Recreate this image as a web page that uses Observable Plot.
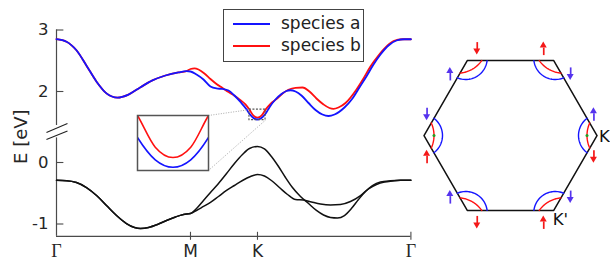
<!DOCTYPE html>
<html><head><meta charset="utf-8">
<script src="https://cdn.jsdelivr.net/npm/d3@7"></script>
<script src="https://cdn.jsdelivr.net/npm/@observablehq/plot@0.6"></script>
<style>
html,body{margin:0;padding:0;background:#fff;}
#wrap{position:relative;width:610px;height:261px;overflow:hidden;font-family:"DejaVu Sans",sans-serif;}
#wrap svg{position:absolute;}
#legend{position:absolute;left:223px;top:9px;width:141px;height:53px;border:1px solid #444;background:#fff;box-sizing:border-box;}
#legend .ln{position:absolute;left:9px;width:37px;height:1.6px;}
#legend .tx{position:absolute;left:57px;font-size:17px;line-height:20px;color:#222;white-space:nowrap;}
</style></head><body><div id="wrap"><div id="legend">
<div class="ln" style="top:13px;background:#1414ff"></div><div class="tx" style="top:3px">species a</div>
<div class="ln" style="top:35px;background:#ff1010"></div><div class="tx" style="top:25px">species b</div>
</div></div>
<script>
// ---------- data ----------
const kTicks = [0, 1, 1.5, 2.645];
const kTickLabels = ["Γ", "M", "K", "Γ"];
const yTicks = [-1, 0, 2, 3];
const yTickLabels = ["-1", "0", "2", "3"];

// upper band, Γ → M (both species identical)
const commonK = [0, 0.075, 0.149, 0.224, 0.299, 0.373, 0.455, 0.537, 0.627, 0.716, 0.813, 0.910, 0.970];
const commonE = [2.85, 2.81, 2.67, 2.42, 2.16, 1.97, 1.90, 1.95, 2.07, 2.18, 2.26, 2.31, 2.33];
// species a (blue), M → K → Γ
const speciesAK = [1.000, 1.045, 1.097, 1.149, 1.194, 1.239, 1.284, 1.328, 1.373, 1.418, 1.44, 1.47, 1.50, 1.53, 1.56, 1.59, 1.634, 1.679, 1.716, 1.746, 1.784, 1.828, 1.881, 1.933, 1.985, 2.030, 2.075, 2.149, 2.209, 2.261, 2.313, 2.366, 2.418, 2.478, 2.537, 2.597, 2.645];
const speciesAE = [2.325, 2.276, 2.195, 2.081, 2.049, 2.041, 2.016, 1.935, 1.83, 1.71, 1.637, 1.568, 1.545, 1.568, 1.637, 1.745, 1.870, 1.959, 2.008, 2.020, 2.000, 1.935, 1.813, 1.699, 1.626, 1.602, 1.626, 1.740, 1.886, 2.065, 2.244, 2.439, 2.602, 2.748, 2.829, 2.85, 2.85];
// species b (red), M → K → Γ
const speciesBK = [1.000, 1.030, 1.060, 1.104, 1.149, 1.194, 1.239, 1.284, 1.328, 1.373, 1.41, 1.44, 1.47, 1.50, 1.53, 1.56, 1.597, 1.642, 1.687, 1.731, 1.784, 1.836, 1.888, 1.940, 1.993, 2.037, 2.067, 2.104, 2.157, 2.239, 2.291, 2.343, 2.403, 2.463, 2.515, 2.582, 2.645];
const speciesBE = [2.366, 2.377, 2.358, 2.293, 2.203, 2.122, 2.057, 1.99, 1.93, 1.86, 1.79, 1.705, 1.607, 1.575, 1.607, 1.705, 1.80, 1.875, 1.967, 2.028, 2.060, 2.065, 2.0, 1.886, 1.789, 1.732, 1.719, 1.740, 1.813, 2.033, 2.211, 2.407, 2.585, 2.732, 2.821, 2.85, 2.85];

// valence bands (black), Γ → M common
const valCommonK = [0, 0.075, 0.149, 0.224, 0.299, 0.373, 0.448, 0.522, 0.582, 0.627, 0.687, 0.754, 0.821, 0.888, 0.948, 1.0];
const valCommonE = [-0.29, -0.295, -0.325, -0.407, -0.537, -0.699, -0.862, -0.992, -1.057, -1.073, -1.057, -1.008, -0.943, -0.886, -0.846, -0.829];
const val1K = [1.045, 1.097, 1.149, 1.209, 1.269, 1.328, 1.388, 1.440, 1.5, 1.552, 1.604, 1.657, 1.709, 1.761, 1.821, 1.881, 1.940, 1.993, 2.045, 2.097, 2.149, 2.201, 2.254, 2.306, 2.358, 2.418, 2.493, 2.567, 2.645];
const val1E = [-0.748, -0.618, -0.488, -0.341, -0.179, -0.016, 0.130, 0.228, 0.260, 0.220, 0.098, -0.065, -0.244, -0.407, -0.553, -0.667, -0.780, -0.854, -0.894, -0.902, -0.862, -0.748, -0.602, -0.472, -0.374, -0.317, -0.298, -0.29, -0.29];
const val2K = [1.045, 1.097, 1.149, 1.209, 1.269, 1.328, 1.388, 1.448, 1.5, 1.552, 1.604, 1.664, 1.724, 1.784, 1.843, 1.903, 1.970, 2.045, 2.119, 2.194, 2.269, 2.328, 2.388, 2.448, 2.507, 2.567, 2.645];
const val2E = [-0.780, -0.715, -0.650, -0.553, -0.455, -0.374, -0.293, -0.228, -0.195, -0.220, -0.293, -0.407, -0.520, -0.602, -0.610, -0.642, -0.675, -0.691, -0.683, -0.634, -0.537, -0.431, -0.358, -0.317, -0.301, -0.29, -0.29];

// zoom window around K (k range, E range) and inset box position (data coords)
const zoomK = [1.44, 1.56];
const zoomE = [1.535, 1.705];
const insetK = [0.604, 1.134];
const insetE = [1.61, -0.13];
// broken energy axis: the gap between 0.40 and 1.45 eV is cut out
const axisLower = [-1.2, 0.40];
const axisUpper = [1.447, 3.0];
const breakShift = 0.8455;
const axisBreak = [
  {x1: -0.075, y1: 0.488, x2: 0.082, y2: 1.48},
  {x1: -0.075, y1: 0.374, x2: 0.082, y2: 1.358}
];

// Brillouin zone: spin arrows per corner (corner i at angle 60°·i)
const blueEdgeNeighbor = [1, -1, 1, -1, -1, 1];
const blueSpin = [1, -1, 1, -1, 1, -1];
const dotCorners = [0, 3];

// ---------- build ----------
const tE = E => (E > 1 ? E - breakShift : E);
const table = (K, E) => K.map((k, i) => ({k, E: E[i]}));
const upperCommon = table(commonK, commonE);
const bandA = upperCommon.concat(table(speciesAK, speciesAE));
const bandB = upperCommon.concat(table(speciesBK, speciesBE));
const valCommon = table(valCommonK, valCommonE);
const val1 = valCommon.concat(table(val1K, val1E));
const val2 = valCommon.concat(table(val2K, val2E));

const BLUE = "#1414ff", RED = "#ff1010", AX = "#4a4a4a", TXT = "#262626";
const wrap = document.getElementById("wrap");
const kEnd = kTicks[3];
const eMin = axisLower[0];
const yE = d => tE(d.E);
const labelled = kTicks.map((k, i) => ({k, t: kTickLabels[i]}));

const main = Plot.plot({
  width: 422, height: 261,
  marginLeft: 56, marginRight: 12, marginTop: 29, marginBottom: 26,
  style: {background: "transparent", overflow: "visible", fontFamily: "DejaVu Sans"},
  x: {domain: [0, kEnd], range: [56, 410.4], axis: null},
  y: {domain: [tE(eMin), tE(axisUpper[1])], range: [235.8, 29.5], axis: null},
  marks: [
    // axes
    Plot.ruleX([0], {x: d => d, y1: () => tE(axisUpper[1]), y2: () => tE(axisUpper[0]), stroke: AX, strokeWidth: 1.2}),
    Plot.ruleX([0], {x: d => d, y1: () => tE(axisLower[1]), y2: () => tE(axisLower[0]), stroke: AX, strokeWidth: 1.2}),
    Plot.link(axisBreak, {x1: "x1", y1: d => tE(d.y1), x2: "x2", y2: d => tE(d.y2), stroke: "#222", strokeWidth: 1.1}),
    Plot.ruleY([eMin], {y: d => tE(d), x1: () => 0, x2: () => kEnd, stroke: AX, strokeWidth: 1.2}),
    Plot.ruleY(yTicks, {y: d => tE(d), x1: () => 0, x2: () => 0.055, stroke: AX, strokeWidth: 1.1}),
    Plot.ruleX(kTicks.slice(1), {x: d => d, y1: () => eMin - 0.065, y2: () => eMin + 0.065, stroke: AX, strokeWidth: 1.1}),
    Plot.text(yTicks, {x: () => 0, y: d => tE(d), text: (d, i) => yTickLabels[i], dx: -8, textAnchor: "end", fontSize: 16.5, fill: TXT}),
    Plot.text(labelled.filter(d => d.t === "Γ"),
      {x: "k", y: () => eMin, text: "t", dy: 14.5, fontSize: 18, fontFamily: "Liberation Serif", fill: TXT}),
    Plot.text(labelled.filter(d => d.t !== "Γ"),
      {x: "k", y: () => eMin, text: "t", dy: 15.5, fontSize: 17, fill: TXT}),
    Plot.text(["E [eV]"], {x: () => 0, y: () => 0.42, text: d => d, dx: -35, rotate: -90, fontSize: 18, fill: TXT}),
    // bands
    Plot.line(val1, {x: "k", y: yE, stroke: "#111", strokeWidth: 1.5, curve: "monotone-x"}),
    Plot.line(val2, {x: "k", y: yE, stroke: "#111", strokeWidth: 1.5, curve: "monotone-x"}),
    Plot.line(bandB, {x: "k", y: yE, stroke: RED, strokeWidth: 1.8, curve: "monotone-x"}),
    Plot.line(bandA, {x: "k", y: yE, stroke: BLUE, strokeWidth: 1.8, curve: "monotone-x"}),
    // zoom window + connectors
    Plot.rect([0], {x1: () => zoomK[0], x2: () => zoomK[1], y1: () => tE(zoomE[0]), y2: () => tE(zoomE[1]), fill: "none", stroke: "#555", strokeWidth: 1.1, strokeDasharray: "2,1.5"}),
    Plot.link([
      {x1: insetK[1], y1: insetE[0], x2: zoomK[0], y2: zoomE[1]},
      {x1: insetK[1], y1: insetE[1], x2: zoomK[1], y2: zoomE[0]}
    ], {x1: "x1", y1: d => tE(d.y1), x2: "x2", y2: d => tE(d.y2), stroke: "#aaa", strokeWidth: 1, strokeDasharray: "1,1.5"})
  ]
});
main.style.left = "0px"; main.style.top = "0px";
wrap.appendChild(main);

// inset
const sx = main.scale("x"), sy = main.scale("y");
const ix0 = sx.apply(insetK[0]), ix1 = sx.apply(insetK[1]);
const iy0 = sy.apply(tE(insetE[0])), iy1 = sy.apply(tE(insetE[1]));
const inset = Plot.plot({
  width: Math.round(ix1 - ix0), height: Math.round(iy1 - iy0), margin: 0,
  style: {background: "#fff", overflow: "visible"},
  x: {domain: zoomK, axis: null},
  y: {domain: zoomE, axis: null},
  marks: [
    Plot.line(bandB, {x: "k", y: "E", stroke: RED, strokeWidth: 1.6, curve: "monotone-x", clip: true}),
    Plot.line(bandA, {x: "k", y: "E", stroke: BLUE, strokeWidth: 1.6, curve: "monotone-x", clip: true}),
    Plot.frame({stroke: "#555", strokeWidth: 1.5})
  ]
});
inset.style.left = ix0 + "px"; inset.style.top = iy0 + "px";
wrap.appendChild(inset);

// Brillouin zone
const R = 86.5;
const V = d3.range(6).map(i => ({i, a: i * Math.PI / 3, x: R * Math.cos(i * Math.PI / 3), y: R * Math.sin(i * Math.PI / 3)}));
const hexPath = V.concat([V[0]]);
function arcPts(i, d, r, id) {
  const v = V[i], th = v.a;
  const x = (-d + Math.sqrt(4 * r * r - 3 * d * d)) / 2;
  const alpha = Math.atan2(0.866025 * x, -x / 2 - d);
  const cx = v.x + d * Math.cos(th), cy = v.y + d * Math.sin(th);
  return d3.range(41).map(j => {
    const p = th + alpha + (2 * Math.PI - 2 * alpha) * j / 40;
    return {id, x: cx + r * Math.cos(p), y: cy + r * Math.sin(p)};
  });
}
const blueArcs = V.flatMap(v => arcPts(v.i, 3, 21.5, v.i));
const redArcs = V.flatMap(v => arcPts(v.i, 20, 30, v.i));
const arrows = [];
V.forEach(v => {
  ["b", "r"].forEach(c => {
    const n = c === "b" ? blueEdgeNeighbor[v.i] : -blueEdgeNeighbor[v.i];
    const w = V[(v.i + n + 6) % 6];
    const ex = (w.x - v.x) / R, ey = (w.y - v.y) / R;
    const mx = (v.x + w.x) / 2, my = (v.y + w.y) / 2, ml = Math.hypot(mx, my);
    const horiz = Math.abs(ey) < 0.1;
    const a = horiz ? 10 : 20, b = horiz ? 12 : 8;
    const s = c === "b" ? blueSpin[v.i] : -blueSpin[v.i];
    arrows.push({id: v.i + c, c, s, cx: v.x + a * ex + b * mx / ml, cy: v.y + a * ey + b * my / ml});
  });
});
const heads = arrows.flatMap(d => [
  {id: d.id, c: d.c, x: d.cx - 3.5, yb: d.cy + d.s * 0.5, yt: d.cy + d.s * 0.5},
  {id: d.id, c: d.c, x: d.cx, yb: d.cy + d.s * 0.5, yt: d.cy + d.s * 6.5},
  {id: d.id, c: d.c, x: d.cx + 3.5, yb: d.cy + d.s * 0.5, yt: d.cy + d.s * 0.5}
]);
const ABLUE = "#5533ee", ARED = "#f41818";
const hex = Plot.plot({
  width: 188, height: 261, margin: 0,
  style: {background: "transparent", overflow: "visible", fontFamily: "DejaVu Sans"},
  x: {domain: [-88, 100], axis: null},
  y: {domain: [-126, 135], axis: null},
  marks: [
    Plot.line(hexPath, {x: "x", y: "y", stroke: "#111", strokeWidth: 1.5}),
    Plot.line(blueArcs, {x: "x", y: "y", z: "id", stroke: BLUE, strokeWidth: 1.4}),
    Plot.line(redArcs, {x: "x", y: "y", z: "id", stroke: RED, strokeWidth: 1.4}),
    Plot.dot(dotCorners.map(i => V[i]), {x: d => d.x - 10 * Math.cos(d.a), y: d => d.y - 10 * Math.sin(d.a), r: 1.5, fill: "#22a022", stroke: "none"}),
    Plot.link(arrows.filter(d => d.c === "b"), {x1: "cx", x2: "cx", y1: d => d.cy - d.s * 6.5, y2: d => d.cy + d.s * 1, stroke: ABLUE, strokeWidth: 1.7}),
    Plot.link(arrows.filter(d => d.c === "r"), {x1: "cx", x2: "cx", y1: d => d.cy - d.s * 6.5, y2: d => d.cy + d.s * 1, stroke: ARED, strokeWidth: 1.7}),
    Plot.areaY(heads.filter(d => d.c === "b"), {x: "x", y1: "yb", y2: "yt", z: "id", fill: ABLUE}),
    Plot.areaY(heads.filter(d => d.c === "r"), {x: "x", y1: "yb", y2: "yt", z: "id", fill: ARED}),
    Plot.text([V[0]], {x: "x", y: "y", text: () => "K", dx: 2, dy: 1, textAnchor: "start", fontSize: 16.5, fill: "#111"}),
    Plot.text([V[5]], {x: "x", y: "y", text: () => "K'", dx: -1, dy: 9, textAnchor: "start", fontSize: 16.5, fill: "#111"})
  ]
});
hex.style.left = "422px"; hex.style.top = "0px";
wrap.appendChild(hex);
wrap.appendChild(document.getElementById("legend"));
</script></body></html>
